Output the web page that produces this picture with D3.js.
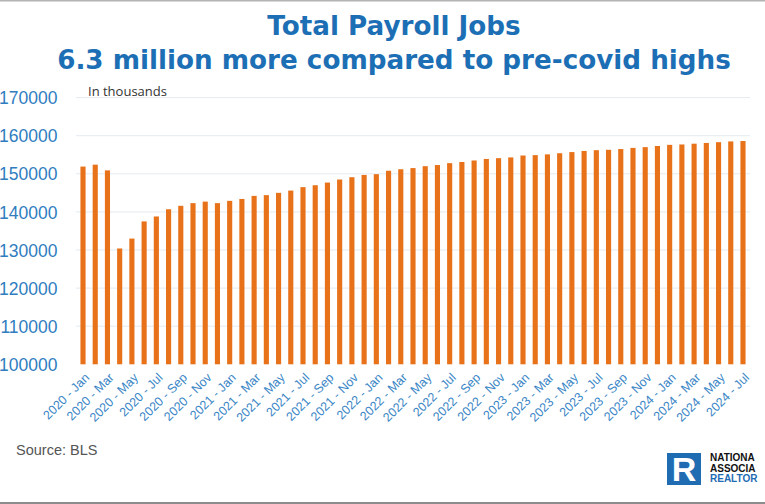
<!DOCTYPE html>
<html>
<head>
<meta charset="utf-8">
<script src="https://cdn.jsdelivr.net/npm/d3@7"></script>
<style>
  html, body { margin: 0; padding: 0; background: #fff; }
  svg { display: block; }
</style>
</head>
<body>
<svg id="chart" width="765" height="504"></svg>
<script>
// ---- data ----
const years = [2020, 2021, 2022, 2023, 2024];
const monthNames = ["Jan","Feb","Mar","Apr","May","Jun","Jul","Aug","Sep","Oct","Nov","Dec"];
const categories = [];
years.forEach(y => monthNames.forEach((m, i) => {
  if (y < 2024 || i <= 6) categories.push(y + " - " + m);
}));
// Total nonfarm payroll jobs, thousands
const payrollJobs = [
  151900, 152400, 150900, 130400, 133000, 137500, 138800, 140700, 141600, 142300, 142700, 142300,
  142900, 143400, 144200, 144400, 145000, 145600, 146500, 147000, 147700, 148500, 149100, 149700,
  149900, 150800, 151200, 151500, 152000, 152300, 152800, 153100, 153500, 153900, 154100, 154300,
  154800, 154900, 155100, 155400, 155700, 156000, 156200, 156300, 156500, 156800, 157000, 157300,
  157600, 157700, 157900, 158100, 158300, 158500, 158600
];
const yTicks = [100000, 110000, 120000, 130000, 140000, 150000, 160000, 170000];
const titleLines = ["Total Payroll Jobs", "6.3 million more compared to pre-covid highs"];
const logoLines = ["NATIONA", "ASSOCIA", "REALTOR"];

// ---- layout ----
const svg = d3.select("#chart");
const W = 765, H = 504;
const plot = { left: 76.9, right: 749.1, top: 97.6, bottom: 364.3 };

const x = d3.scaleBand().domain(categories).range([plot.left, plot.right])
  .paddingInner(0.58).paddingOuter(0.29);
const y = d3.scaleLinear().domain([100000, 170000]).range([plot.bottom, plot.top]);

// frame lines
svg.append("rect").attr("x", 0).attr("y", 0).attr("width", W).attr("height", 1.5).attr("fill", "#b4b4b4");
svg.append("rect").attr("x", 0).attr("y", 502).attr("width", W).attr("height", 2).attr("fill", "#8c8c8c");

// gridlines
svg.append("g").selectAll("line").data(yTicks.slice(1)).join("line")
  .attr("x1", plot.left - 1).attr("x2", plot.right + 1)
  .attr("y1", d => y(d)).attr("y2", d => y(d))
  .attr("stroke", "#e3ebf1").attr("stroke-width", 1);

// y axis labels
const yAxis = d3.axisLeft(y).tickValues(yTicks).tickSize(0).tickPadding(0).tickFormat(d3.format("d"));
const yg = svg.append("g").attr("transform", "translate(57.5,0)").call(yAxis);
yg.select(".domain").remove();
yg.selectAll("text").attr("fill", "#2f7dbf").attr("font-family", "Liberation Sans, Arial, sans-serif")
  .attr("font-size", 17.5).attr("dy", "0.35em");

// bars
svg.append("g").selectAll("rect").data(payrollJobs).join("rect")
  .attr("x", (d, i) => x(categories[i]))
  .attr("width", x.bandwidth())
  .attr("y", d => y(d))
  .attr("height", d => y(100000) - y(d))
  .attr("fill", "#e8721a");

// x axis labels (every other month)
const xAxis = d3.axisBottom(x).tickValues(categories.filter((c, i) => i % 2 === 0)).tickSize(0).tickPadding(0);
const xg = svg.append("g").attr("transform", `translate(0,${plot.bottom})`).call(xAxis);
xg.select(".domain").remove();
xg.selectAll("text")
  .attr("fill", "#3a86c6").attr("font-family", "Liberation Sans, Arial, sans-serif").attr("font-size", 12.5)
  .attr("text-anchor", "end").attr("dy", "0.35em").attr("y", 0)
  .attr("transform", "translate(4,11) rotate(-45)");

// title
const title = svg.append("g");
title.selectAll("text").data(titleLines).join("text")
  .attr("x", 394).attr("y", (d, i) => i === 0 ? 34.5 : 68.5)
  .attr("text-anchor", "middle")
  .attr("font-family", "DejaVu Sans, Liberation Sans, sans-serif").attr("font-weight", 700)
  .attr("font-size", 24).attr("fill", "#1d6fb5")
  .text(d => d);
// fit second line width to ~674px
const t2 = title.selectAll("text").nodes()[1];
const w2 = t2.getComputedTextLength();
const fs = 24 * 674 / w2;
title.selectAll("text").attr("font-size", fs);

// "In thousands"
svg.append("text").attr("x", 88).attr("y", 96)
  .attr("font-family", "Open Sans, Liberation Sans, sans-serif").attr("font-size", 13)
  .attr("fill", "#333").text("In thousands");

// source
svg.append("text").attr("x", 16).attr("y", 455)
  .attr("font-family", "Liberation Sans, Arial, sans-serif").attr("font-size", 14.5)
  .attr("fill", "#555").text("Source: BLS");

// logo
const logo = svg.append("g");
logo.append("rect").attr("x", 667).attr("y", 453).attr("width", 34).attr("height", 32).attr("fill", "#1f6cb3");
logo.append("text").attr("x", 684).attr("y", 481).attr("text-anchor", "middle")
  .attr("font-family", "Liberation Sans, Arial, sans-serif").attr("font-weight", 700).attr("font-size", 34)
  .attr("fill", "#fff").text("R");
logo.selectAll("text.l").data(logoLines).join("text").attr("class", "l")
  .attr("x", 710).attr("y", (d, i) => 461 + i * 10.5)
  .attr("font-family", "Liberation Sans, Arial, sans-serif").attr("font-weight", 700).attr("font-size", 10)
  .attr("fill", (d, i) => i === 2 ? "#1f6cb3" : "#111").text(d => d);
</script>
</body>
</html>
